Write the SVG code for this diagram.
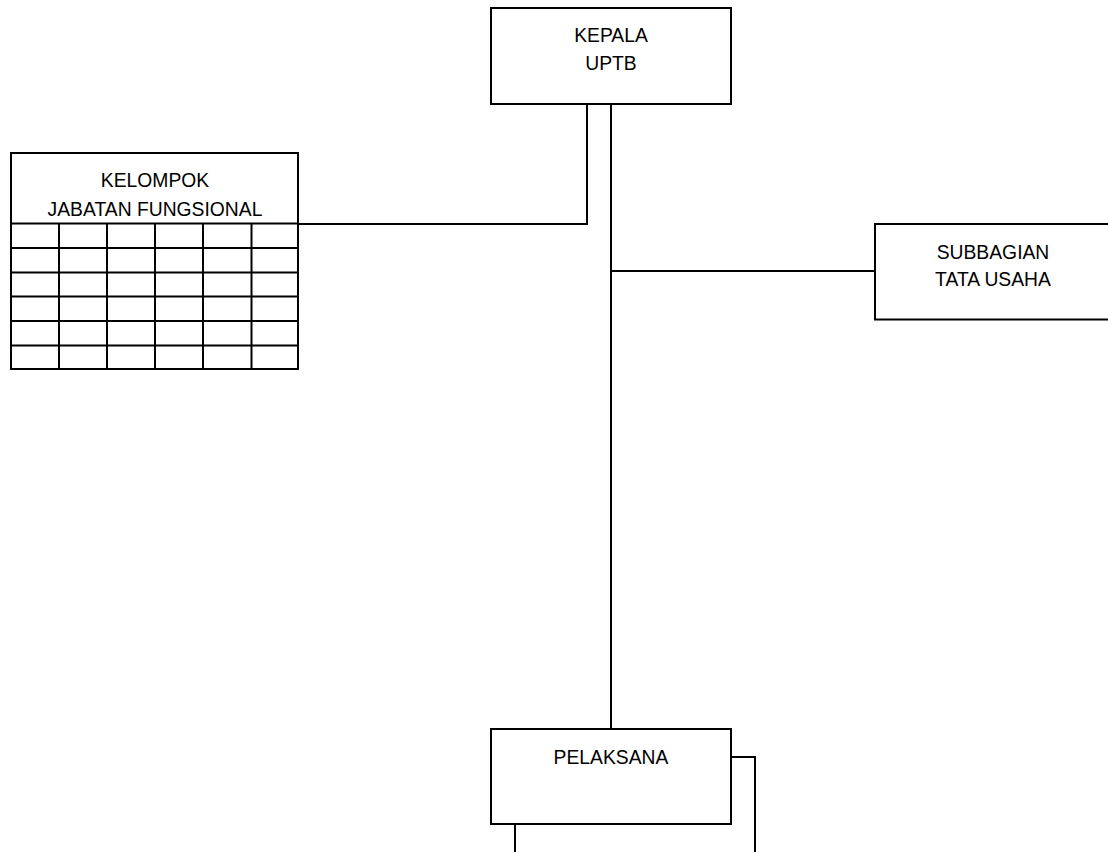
<svg xmlns="http://www.w3.org/2000/svg" width="1108" height="852" viewBox="0 0 1108 852">
<style>
.box{fill:#fff;stroke:#000;stroke-width:2}
.ln{fill:none;stroke:#000;stroke-width:2}
.t{font-family:"Liberation Sans",Arial,sans-serif;font-size:21px;fill:#000;text-anchor:middle}
</style>
<rect width="1108" height="852" fill="#fff"/>
<g id="connectors">
<path class="ln" d="M587,104 V224 H298"/>
<path class="ln" d="M611,104 V729"/>
<path class="ln" d="M611,271 H875"/>
<path class="ln" d="M731,757 H755 V852"/>
<path class="ln" d="M515,824 V852"/>
</g>
<g id="kepala">
<rect class="box" x="491" y="8" width="240" height="96"/>
<text class="t" transform="translate(611,42) scale(0.92,1)">KEPALA</text>
<text class="t" transform="translate(611,69.5) scale(0.92,1)">UPTB</text>
</g>
<g id="kelompok">
<rect class="box" x="11" y="153" width="287" height="216"/>
<path class="ln" d="M11,223.5 H298 M11,248 H298 M11,272.5 H298 M11,296.5 H298 M11,321 H298 M11,345.5 H298 M59,223.5 V369 M107,223.5 V369 M155,223.5 V369 M203,223.5 V369 M251.5,223.5 V369"/>
<text class="t" transform="translate(155,186.5) scale(0.92,1)">KELOMPOK</text>
<text class="t" transform="translate(155,215.5) scale(0.92,1)">JABATAN FUNGSIONAL</text>
</g>
<g id="subbagian">
<rect class="box" x="875" y="224" width="236" height="95.5"/>
<text class="t" transform="translate(993,258.5) scale(0.92,1)">SUBBAGIAN</text>
<text class="t" transform="translate(993,285.5) scale(0.92,1)">TATA USAHA</text>
</g>
<g id="pelaksana">
<rect class="box" x="491" y="729" width="240" height="95"/>
<text class="t" transform="translate(611,763.5) scale(0.92,1)">PELAKSANA</text>
</g>
</svg>
